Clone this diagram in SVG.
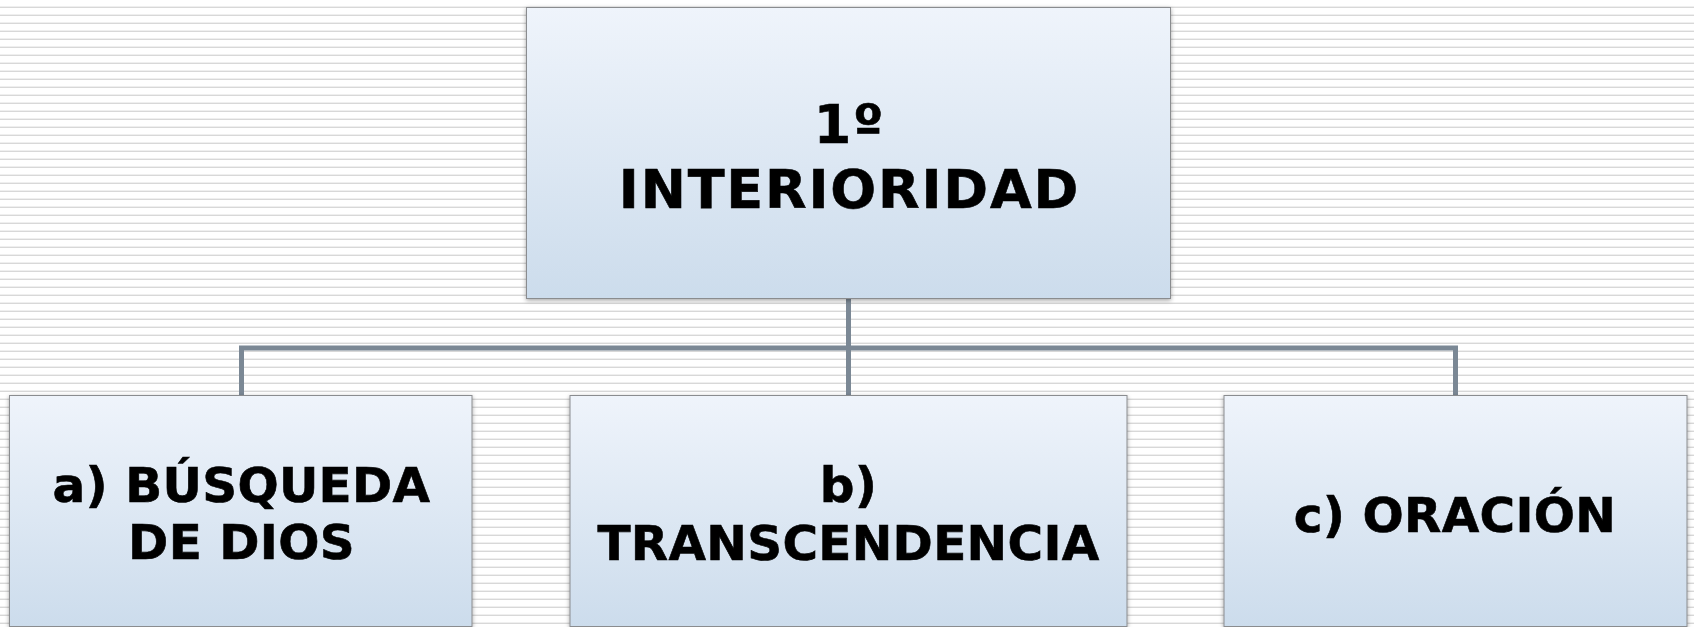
<svg xmlns="http://www.w3.org/2000/svg" width="1694" height="627" viewBox="0 0 1694 627">
  <defs>
    <pattern id="stripes" patternUnits="userSpaceOnUse" x="0" y="0" width="16" height="8">
      <rect x="0" y="0" width="16" height="8" fill="#ffffff"/>
      <rect x="0" y="6.6" width="16" height="2.2" fill="#d8d8d8"/>
    </pattern>
    <linearGradient id="boxGrad" x1="0" y1="0" x2="0" y2="1">
      <stop offset="0" stop-color="#eff4fb"/>
      <stop offset="1" stop-color="#ccdcec"/>
    </linearGradient>
    <filter id="shadow" x="-5%" y="-5%" width="110%" height="115%">
      <feDropShadow dx="0" dy="1.5" stdDeviation="2" flood-color="#000000" flood-opacity="0.35"/>
    </filter>
  </defs>
  <style>
    .box { fill: url(#boxGrad); stroke: #8a8c8f; stroke-width: 1; filter: url(#shadow); }
    .lbl { font-family: "DejaVu Sans", Verdana, sans-serif; font-weight: bold; fill: #000000; stroke: #000000; stroke-width: 0.6; text-anchor: middle; }
    .top { font-size: 54px; letter-spacing: 1.8px; }
    .sub { font-size: 48.5px; letter-spacing: 0.3px; }
    .conn { fill: none; stroke: #7b8895; stroke-width: 5; stroke-linejoin: miter; stroke-linecap: butt; }
  </style>
  <rect x="0" y="0" width="1694" height="627" fill="url(#stripes)"/>

  <g id="connectors">
    <path class="conn" d="M848.5,299 V395"/>
    <path class="conn" d="M241.5,395 V348 H1455.5 V395"/>
  </g>

  <g id="node-interioridad">
    <rect class="box" x="526.5" y="7.5" width="644" height="291"/>
    <text class="lbl top" x="849.5" y="143">1º</text>
    <text class="lbl top" x="849.5" y="207.5">INTERIORIDAD</text>
  </g>

  <g id="node-busqueda">
    <rect class="box" x="9.5" y="395.5" width="462.5" height="231"/>
    <text class="lbl sub" x="241.5" y="502">a) BÚSQUEDA</text>
    <text class="lbl sub" x="241.5" y="558.5">DE DIOS</text>
  </g>

  <g id="node-transcendencia">
    <rect class="box" x="570" y="395.5" width="557" height="231"/>
    <text class="lbl sub" x="848.5" y="502">b)</text>
    <text class="lbl sub" x="848.5" y="560">TRANSCENDENCIA</text>
  </g>

  <g id="node-oracion">
    <rect class="box" x="1224" y="395.5" width="463" height="231"/>
    <text class="lbl sub" x="1455" y="531.5">c) ORACIÓN</text>
  </g>
</svg>
